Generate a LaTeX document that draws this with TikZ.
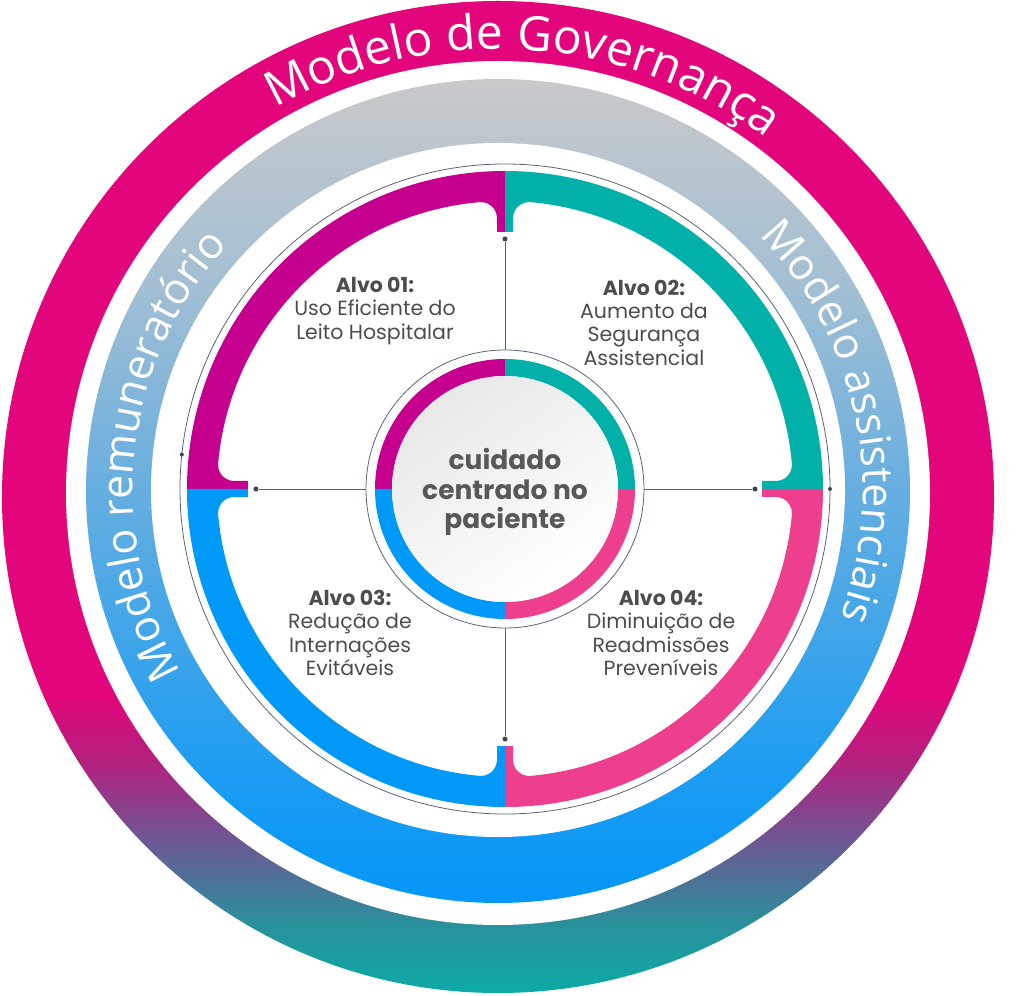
\documentclass[tikz,border=0pt]{standalone}
\usepackage{fontspec}
\setmainfont{Poppins}
\newfontfamily\osans{Open Sans}
\usetikzlibrary{decorations.text}
\definecolor{magq}{HTML}{C6008E}
\definecolor{tealq}{HTML}{00B0A9}
\definecolor{pinkq}{HTML}{EE3F8E}
\definecolor{blueq}{HTML}{0099F7}
\definecolor{oA}{HTML}{0CABA6}
\definecolor{oB}{HTML}{2A909C}
\definecolor{oC}{HTML}{725393}
\definecolor{oD}{HTML}{B0237F}
\definecolor{oE}{HTML}{E2057B}
\definecolor{bA}{HTML}{0596F7}
\definecolor{bB}{HTML}{1A9CF2}
\definecolor{bC}{HTML}{66AEE0}
\definecolor{bD}{HTML}{A3BFD3}
\definecolor{bE}{HTML}{C9C9CA}
\definecolor{linegray}{HTML}{5B6477}
\definecolor{dotgray}{HTML}{3D4556}
\definecolor{txtgray}{HTML}{4D4D4D}
\definecolor{coregray}{HTML}{58585A}
\pgfdeclareverticalshading{outerring}{100bp}{color(0bp)=(oA); color(25bp)=(oA); color(28.5bp)=(oB); color(33bp)=(oC); color(36.5bp)=(oD); color(40bp)=(oE); color(100bp)=(oE)}
\pgfdeclareverticalshading{bluering}{100bp}{color(0bp)=(bA); color(25bp)=(bA); color(32.5bp)=(bB); color(50bp)=(bC); color(62.5bp)=(bD); color(75bp)=(bE); color(100bp)=(bE)}
\tikzset{
  conn/.style={draw=linegray, line width=0.9pt},
  dotnode/.style={circle, fill=dotgray, inner sep=0pt, minimum size=5pt},
  alvo/.style={align=center, text=txtgray, font=\fontsize{20.5}{23.3}\selectfont},
  quadrant/.pic={
    \fill[#1] (90:318) arc[start angle=90,end angle=180,radius=318] -- (-257,0) -- (-257,8) -- (-270.939,8)
      arc[start angle=270,end angle=174.938,radius=16]
      arc[start angle=174.938,end angle=95.062,radius=288]
      arc[start angle=95.062,end angle=0,radius=16]
      -- (-8,257) -- (0,257) -- cycle;
    \fill[#1] (90:130) arc[start angle=90,end angle=180,radius=130] -- (180:113) arc[start angle=180,end angle=90,radius=113] -- cycle;
  }
}
\begin{document}
\begin{tikzpicture}[x=1pt,y=1pt]
\useasboundingbox (-505,-506) rectangle (519,489);
\fill[white] (-505,-506) rectangle (519,489);
% outer ring
\shade[shading=outerring] (-7,-8) circle[radius=496];
\fill[white] (-7,-4) circle[radius=432];
% blue ring
\shade[shading=bluering] (-7,-2) circle[radius=412];
\fill[white] (-7,-1) circle[radius=347];
% thin circle with dots
\draw[linegray, line width=0.8pt] (0,0) circle[radius=325];
\node[dotnode, minimum size=4pt] (oL) at (173.9:325) {};
\node[dotnode, minimum size=4pt] (oR) at (0:325) {};
% quadrants
\pic at (0,0) {quadrant=magq};
\pic[rotate=-90] at (0,0) {quadrant=tealq};
\pic[rotate=180] at (0,0) {quadrant=pinkq};
\pic[rotate=90] at (0,0) {quadrant=blueq};
% center disk
\shade[top color=black!9, bottom color=white, shading angle=35] (0,0) circle[radius=113];
\node[circle, draw=linegray, line width=0.8pt, minimum size=278pt, inner sep=0pt] (core) at (0,0) {};
\node[align=center, text=coregray, font=\bfseries\fontsize{26.5}{29.5}\selectfont] (ctext) at (0,-3) {cuidado\\centrado no\\paciente};
% dots and connectors
\node[dotnode] (dT) at (0,250) {};
\node[dotnode] (dB) at (0,-250) {};
\node[dotnode] (dL) at (-249,0) {};
\node[dotnode] (dR) at (250,0) {};
\draw[conn] (core) -- (dT);
\draw[conn] (core) -- (dB);
\draw[conn] (core) -- (dL);
\draw[conn] (core) -- (dR);
% labels
\node[alvo] (a1) at (-130,178) {\textbf{Alvo 01:}\\Uso Eficiente do\\Leito Hospitalar};
\node[alvo] (a2) at (139,166.5) {\textbf{Alvo 02:}\\Aumento da\\Segurança\\Assistencial};
\node[alvo] (a3) at (-155,-144) {\textbf{Alvo 03:}\\Redução de\\Internações\\Evitáveis};
\node[alvo] (a4) at (156,-144) {\textbf{Alvo 04:}\\Diminuição de\\Readmissões\\Preveníveis};
% curved texts
\path[shift={(-7,-8)}, decorate, decoration={text along path, text align=center, text={|\osans\fontsize{48}{54}\selectfont\color{white}|Modelo de Governança}}] (131.5:448) arc[start angle=131.5, end angle=41.5, radius=448];
\path[shift={(-7,-2)}, decorate, decoration={text along path, text align=center, text={|\osans\fontsize{43}{50}\selectfont\color{white}|Modelo assistenciais}}] (57:365) arc[start angle=57, end angle=-33, radius=365];
\path[shift={(-7,-2)}, decorate, decoration={text along path, text align=center, text={|\osans\fontsize{43}{50}\selectfont\color{white}|Modelo remuneratório}}] (218.7:365) arc[start angle=218.7, end angle=128.7, radius=365];
\end{tikzpicture}
\end{document}
